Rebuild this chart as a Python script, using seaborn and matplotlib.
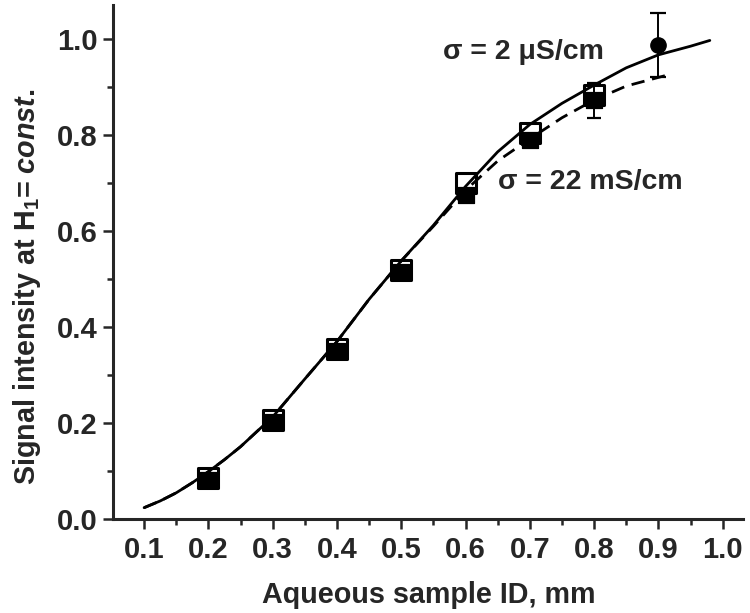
import matplotlib
matplotlib.use("Agg")
import matplotlib.pyplot as plt
from matplotlib.ticker import MultipleLocator
import seaborn as sns
import pandas as pd

# curve points
curve_x = [0.100, 0.125, 0.150, 0.175, 0.200, 0.225, 0.25, 0.30, 0.35, 0.40, 0.45,
           0.50, 0.55, 0.60, 0.65, 0.70, 0.75, 0.80, 0.85, 0.90, 0.95, 0.98]
solid_y = [0.024, 0.038, 0.055, 0.076, 0.099, 0.124, 0.151, 0.213, 0.292, 0.370, 0.458,
           0.538, 0.612, 0.693, 0.765, 0.822, 0.866, 0.904, 0.940, 0.967, 0.985, 0.997]
dashed_x = [0.100, 0.125, 0.150, 0.175, 0.200, 0.225, 0.25, 0.30, 0.35, 0.40, 0.45,
            0.50, 0.55, 0.60, 0.65, 0.70, 0.75, 0.80, 0.85, 0.90, 0.92]
dashed_y = [0.024, 0.038, 0.055, 0.076, 0.099, 0.124, 0.151, 0.213, 0.292, 0.370, 0.458,
            0.538, 0.610, 0.685, 0.746, 0.792, 0.836, 0.873, 0.902, 0.920, 0.927]

# measured points
pts_x = [0.2, 0.3, 0.4, 0.5, 0.6, 0.7, 0.8]
open_y = [0.085, 0.207, 0.355, 0.518, 0.700, 0.805, 0.883]
filled_y = [0.082, 0.203, 0.350, 0.515, 0.675, 0.790, 0.872]
filled_err = [0, 0, 0, 0, 0, 0, 0.037]
circle_x = [0.9]
circle_y = [0.987]
circle_err = [0.067]

label_low = "σ = 2 μS/cm"
label_high = "σ = 22 mS/cm"

sns.set_style("ticks")
plt.rcParams['font.family'] = ['Liberation Sans', 'DejaVu Sans']
plt.rcParams['font.weight'] = 'bold'
plt.rcParams['mathtext.fontset'] = 'custom'
plt.rcParams['mathtext.rm'] = 'Liberation Sans:bold'
plt.rcParams['mathtext.it'] = 'Liberation Sans:italic:bold'
plt.rcParams['mathtext.bf'] = 'Liberation Sans:bold'
plt.rcParams['mathtext.default'] = 'rm'

fig = plt.figure(figsize=(7.5, 6.13), dpi=100)
ax = fig.add_axes([0.151, 0.153, 0.840, 0.839])

df_pts = pd.DataFrame({'x': pts_x, 'open': open_y, 'filled': filled_y})

sns.scatterplot(data=df_pts, x='x', y='open', marker='s', s=190,
                facecolor='white', edgecolor='black', linewidth=2.2,
                ax=ax, zorder=2)
sns.scatterplot(data=df_pts, x='x', y='filled', marker='s', s=120,
                color='black', edgecolor='black', ax=ax, zorder=3)
ax.errorbar(pts_x, filled_y, yerr=filled_err, fmt='none', ecolor='black',
            elinewidth=1.4, capsize=5, capthick=1.6, zorder=3)
ax.errorbar(circle_x, circle_y, yerr=circle_err, fmt='o', color='black',
            markersize=11, elinewidth=1.4, capsize=6, capthick=1.6, zorder=3)

sns.lineplot(x=curve_x, y=solid_y, color='black', linewidth=2.0, ax=ax,
             zorder=4)
sns.lineplot(x=dashed_x, y=dashed_y, color='black', linewidth=2.0, ax=ax,
             dashes=False, zorder=4).lines[-1].set_dashes((4.8, 2.8))

ax.text(0.565, 0.973, label_low, fontsize=20.5, fontweight='bold', va='center')
ax.text(0.650, 0.702, label_high, fontsize=20.5, fontweight='bold', va='center')

ax.set_xlim(0.052, 1.032)
ax.set_ylim(0.0, 1.071)
ax.xaxis.set_minor_locator(MultipleLocator(0.05))
ax.yaxis.set_minor_locator(MultipleLocator(0.1))
ax.set_xticks([0.1, 0.2, 0.3, 0.4, 0.5, 0.6, 0.7, 0.8, 0.9, 1.0])
ax.set_xticklabels(['0.1', '0.2', '0.3', '0.4', '0.5', '0.6', '0.7', '0.8', '0.9', '1.0'])
ax.set_yticks([0.0, 0.2, 0.4, 0.6, 0.8, 1.0])
ax.set_yticklabels(['0.0', '0.2', '0.4', '0.6', '0.8', '1.0'])

sns.despine(ax=ax)
for side in ['left', 'bottom']:
    ax.spines[side].set_linewidth(2.2)
ax.tick_params(which='major', length=7, width=1.8, labelsize=21, direction='out')
ax.tick_params(which='minor', length=4, width=1.8, direction='out')
ax.tick_params(axis='x', which='major', pad=5)
ax.tick_params(axis='y', which='major', pad=4)

ax.set_xlabel("Aqueous sample ID, mm", fontsize=20.7, fontweight='bold', labelpad=12)
ax.set_ylabel(r"Signal intensity at H$_1$= $\mathit{const.}$", fontsize=20.7,
              fontweight='bold')
ax.yaxis.set_label_coords(-0.112, 0.453)

fig.savefig("out.png", dpi=100)
